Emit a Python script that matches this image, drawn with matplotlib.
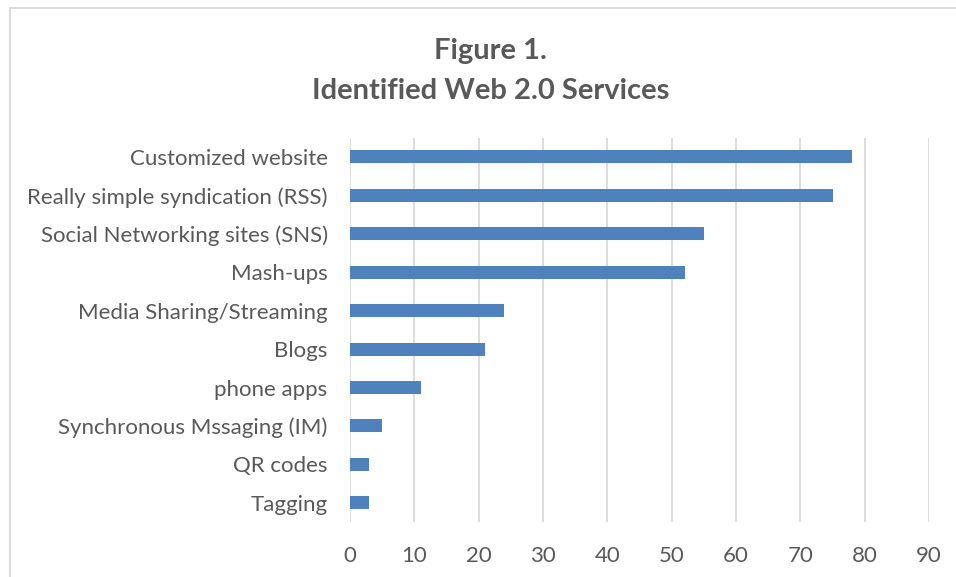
import matplotlib.pyplot as plt
from matplotlib.patches import Rectangle

categories = ["Customized website", "Really simple syndication (RSS)",
              "Social Networking sites (SNS)", "Mash-ups",
              "Media Sharing/Streaming", "Blogs", "phone apps",
              "Synchronous Mssaging (IM)", "QR codes", "Tagging"]
values = [78, 75, 55, 52, 24, 21, 11, 5, 3, 3]
x_ticks = [0, 10, 20, 30, 40, 50, 60, 70, 80, 90]

text_color = "#595959"
plt.rcParams['font.family'] = ['Lato', 'DejaVu Sans']

fig = plt.figure(figsize=(9.56, 5.77), dpi=100)
ax = fig.add_axes([0.366, 0.0953, 0.606, 0.666])

y_pos = list(range(len(categories)))
ax.barh(y_pos, values, height=0.34, color="#4F81BD", zorder=3)
ax.set_ylim(len(categories) - 0.5, -0.5)
ax.set_xlim(0, 90)
ax.set_xticks(x_ticks)
ax.set_yticks(y_pos)
ax.set_yticklabels(categories)
ax.xaxis.grid(True, color="#D9D9D9", linewidth=1.3, zorder=0)
for s in ax.spines.values():
    s.set_visible(False)
ax.tick_params(axis="both", length=0, labelsize=16, colors=text_color)
ax.tick_params(axis="x", pad=17)
ax.tick_params(axis="y", pad=16)

fig.text(0.513, 0.82, "Figure 1.\nIdentified Web 2.0 Services", ha="center",
         va="bottom", fontsize=21, fontweight="bold", color=text_color,
         linespacing=1.65)

# outer chart border (only top/left visible in the crop)
fig.patches.append(Rectangle((10 / 956, -0.1), 1.1, 1 - 8 / 577 + 0.1,
                             transform=fig.transFigure, fill=False,
                             edgecolor="#D9D9D9", linewidth=1.3))

fig.savefig("out.png", dpi=100)
